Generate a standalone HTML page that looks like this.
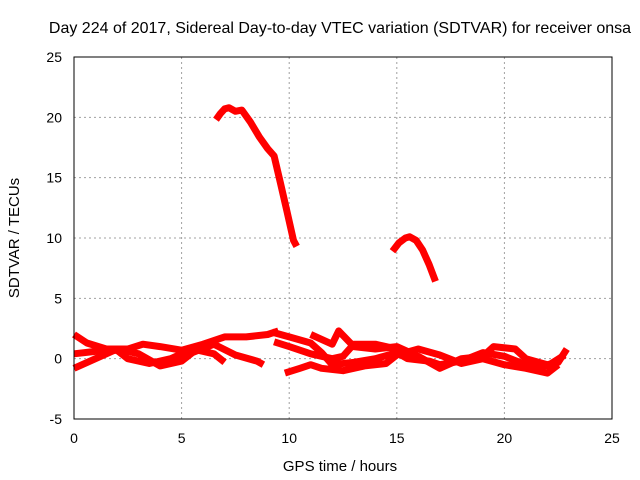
<!DOCTYPE html>
<html><head><meta charset="utf-8"><style>
html,body{margin:0;padding:0;background:#fff;}
svg{display:block;font-family:"Liberation Sans",sans-serif;}
</style></head><body>
<svg id="chart" width="640" height="480" viewBox="0 0 640 480" xmlns="http://www.w3.org/2000/svg">
<text x="340" y="33" font-size="16" text-anchor="middle">Day 224 of 2017, Sidereal Day-to-day VTEC variation (SDTVAR) for receiver onsa</text>
<text x="340" y="471" font-size="15" text-anchor="middle">GPS time / hours</text>
<text x="0" y="0" font-size="15" text-anchor="middle" transform="translate(19,238) rotate(-90)">SDTVAR / TECUs</text>
<g id="grid"></g>
<g id="series"></g>
<rect x="74" y="57" width="538" height="362" fill="none" stroke="#000" stroke-width="1"/>
<g id="ticks"></g>
</svg>
<script>
const xTicks=[0,5,10,15,20,25];
const yTicks=[-5,0,5,10,15,20,25];
const trace1H=[6.6,6.8,7.0,7.2,7.5,7.8,8.2,8.6,9.0,9.3,9.6,9.9,10.2,10.35];
const trace1V=[19.8,20.3,20.7,20.8,20.5,20.6,19.6,18.4,17.4,16.8,14.5,12.2,9.8,9.3];
const trace2H=[14.8,15.1,15.4,15.6,15.9,16.2,16.5,16.8];
const trace2V=[8.9,9.6,10.0,10.1,9.8,9.0,7.8,6.4];
const trace3H=[0,0.6,1.5,2.5,3.2,4.0,5.0,6.0,7.0,8.0,9.0,9.5];
const trace3V=[2.0,1.3,0.8,0.8,1.2,1.0,0.7,1.2,1.8,1.8,2.0,2.3];
const trace4H=[0,1,2,3,4,5,5.5,6.5,7.5,8.5,8.8];
const trace4V=[-0.8,0.0,0.8,0.4,-0.6,-0.2,0.5,1.2,0.3,-0.2,-0.5];
const trace5H=[0,1,2,2.5,3.5,4.5,5.5,6.5,7.0];
const trace5V=[0.4,0.6,0.7,0.0,-0.4,0.0,0.8,0.4,-0.3];
const trace6H=[9.3,10,11,12,12.5,13,14,15,16,17,18,19,19.5,20.5,21,22,22.5,22.9];
const trace6V=[1.4,1.0,0.4,0.0,0.2,1.2,1.2,0.8,0.2,-0.8,0.0,0.2,1.0,0.8,0.0,-0.5,-0.3,0.8];
const trace7H=[9.2,10,11,11.5,12,13,14,15,15.5,16.5,17,18,19,20,21,22,22.8];
const trace7V=[2.2,1.8,1.3,0.5,-0.5,-0.3,0.0,0.5,0.0,-0.2,-0.5,-0.2,0.5,0.2,-0.5,-0.6,0.3];
const trace8H=[9.8,10.5,11,11.5,12.5,13.5,14.5,15,16,17,18,19,20,21,22,22.5];
const trace8V=[-1.2,-0.8,-0.5,-0.8,-1.0,-0.6,-0.4,0.3,0.8,0.3,-0.4,0.0,-0.5,-0.8,-1.2,-0.5];
const trace9H=[11,12,12.3,13,14,15,15.5];
const trace9V=[2.0,1.2,2.3,1.0,0.8,1.0,0.6];

const X0=74,X1=612,Y0=419,Y1=57,XMIN=0,XMAX=25,YMIN=-5,YMAX=25;
function sx(h){return X0+(h-XMIN)/(XMAX-XMIN)*(X1-X0);}
function sy(v){return Y0-(v-YMIN)/(YMAX-YMIN)*(Y0-Y1);}
const NS="http://www.w3.org/2000/svg";
const grid=document.getElementById('grid'),ticks=document.getElementById('ticks'),ser=document.getElementById('series');
function mk(t,a){const e=document.createElementNS(NS,t);for(const k in a)e.setAttribute(k,a[k]);return e;}
xTicks.forEach(t=>{
  const x=sx(t);
  if(t>XMIN&&t<XMAX){const g=mk('line',{x1:x,x2:x,y1:Y1,y2:Y0,stroke:'#a0a0a0','stroke-dasharray':'2,3','stroke-width':1});
  
  
  grid.appendChild(g);}
  const l=mk('text',{x:x,y:Y0+24,'font-size':14,'text-anchor':'middle'});l.textContent=t;
  
  
  ticks.appendChild(l);
});
yTicks.forEach(t=>{
  const y=sy(t);
  if(t>YMIN&&t<YMAX){const g=mk('line',{x1:X0,x2:X1,y1:y,y2:y,stroke:'#a0a0a0','stroke-dasharray':'2,3','stroke-width':1});
  
  
  grid.appendChild(g);}
  const l=mk('text',{x:X0-12,y:y+5,'font-size':14,'text-anchor':'end'});l.textContent=t;
  
  
  ticks.appendChild(l);
});
const traces=[[trace1H,trace1V],[trace2H,trace2V],[trace3H,trace3V],[trace4H,trace4V],[trace5H,trace5V],[trace6H,trace6V],[trace7H,trace7V],[trace8H,trace8V],[trace9H,trace9V]];
traces.forEach((tr,i)=>{
  const pts=tr[0].map((h,j)=>sx(h).toFixed(1)+','+sy(tr[1][j]).toFixed(1)).join(' ');
  const p=mk('polyline',{points:pts,fill:'none',stroke:'#ff0000','stroke-width':7,'stroke-linejoin':'round','stroke-linecap':'butt'});
  
  
  ser.appendChild(p);
});
</script>
</body></html>
